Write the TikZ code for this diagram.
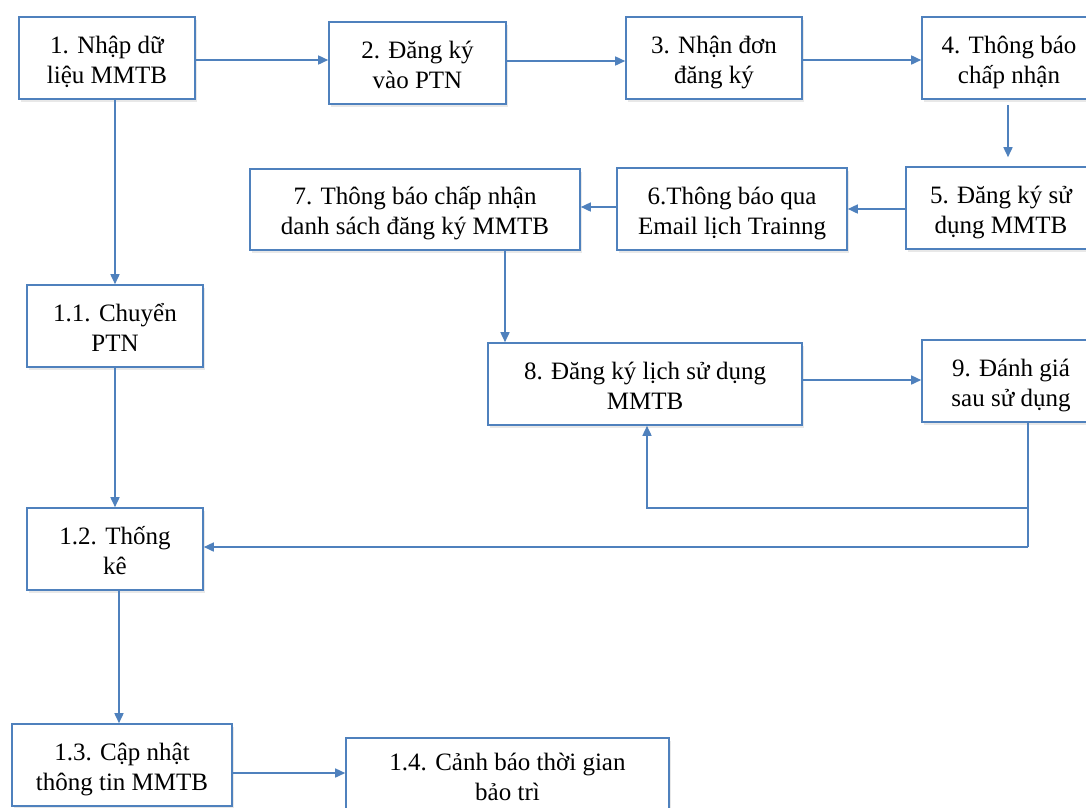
\documentclass[tikz,border=0pt]{standalone}
\usepackage{fontspec}
\setmainfont{Liberation Serif}
\usetikzlibrary{arrows.meta,shadows}
\definecolor{lineblue}{HTML}{4F81BD}
\newcommand\bx[3][10.5pt]{\raisebox{-#1}[0pt][0pt]{\begin{tabular}{@{}c@{}}#2\\#3\end{tabular}}}
\begin{document}
\begin{tikzpicture}[x=1pt,y=-1pt,
  box/.style={draw=lineblue, line width=1.6pt, fill=white, inner sep=0pt,
    font=\fontsize{25pt}{30pt}\selectfont,
    drop shadow={opacity=0.18, shadow xshift=2pt, shadow yshift=-2.5pt}},
  conn/.style={draw=lineblue, line width=1.6pt},
  arr/.style={conn, -{Triangle[length=10pt,width=9pt]}}]
\useasboundingbox (0,0) rectangle (1086,807);
\fill[white] (0,0) rectangle (1086,807);
\clip (0,0) rectangle (1086,807);

\node[box, minimum width=176pt, minimum height=82pt] (n1) at (107,58) {\bx{1. Nhập dữ}{liệu MMTB}};
\node[box, minimum width=177pt, minimum height=82pt] (n2) at (417.5,63) {\bx{2. Đăng ký}{vào PTN}};
\node[box, minimum width=176pt, minimum height=82pt] (n3) at (714,58) {\bx{3. Nhận đơn}{đăng ký}};
\node[box, minimum width=174pt, minimum height=82pt] (n4) at (1009,58) {\bx{4. Thông báo}{chấp nhận}};
\node[box, minimum width=190pt, minimum height=82pt] (n5) at (1001,208) {\bx{5. Đăng ký sử}{dụng MMTB}};
\node[box, minimum width=230pt, minimum height=82pt] (n6) at (732,209) {\bx{6.Thông báo qua}{Email lịch Trainng}};
\node[box, minimum width=330pt, minimum height=81pt] (n7) at (415,209.5) {\bx{7. Thông báo chấp nhận}{danh sách đăng ký MMTB}};
\node[box, minimum width=314pt, minimum height=82pt] (n8) at (645,384) {\bx{8. Đăng ký lịch sử dụng}{MMTB}};
\node[box, minimum width=178pt, minimum height=82pt] (n9) at (1011,381) {\bx{9. Đánh giá}{sau sử dụng}};
\node[box, minimum width=176pt, minimum height=82pt] (n11) at (115,326) {\bx{1.1. Chuyển}{PTN}};
\node[box, minimum width=176pt, minimum height=82pt] (n12) at (115,549) {\bx{1.2. Thống}{kê}};
\node[box, minimum width=220pt, minimum height=82pt] (n13) at (122,765) {\bx{1.3. Cập nhật}{thông tin MMTB}};
\node[box, minimum width=323pt, minimum height=82pt] (n14) at (507.5,779) {\bx[6.5pt]{1.4. Cảnh báo thời gian}{bảo trì}};

\coordinate (j1) at (1028,508);
\coordinate (j2) at (1028,547);

\draw[arr] (n1.east |- 0,60) -- (n2.west |- 0,60);
\draw[arr] (n2.east |- 0,61) -- (n3.west |- 0,61);
\draw[arr] (n3.east |- 0,60) -- (n4.west |- 0,60);
\draw[arr, shorten <=5pt, shorten >=9pt] (n4.south -| 1008,0) -- (n5.north -| 1008,0);
\draw[arr] (n5.west |- 0,209) -- (n6.east |- 0,209);
\draw[arr] (n6.west |- 0,207) -- (n7.east |- 0,207);
\draw[arr] (n7.south -| 505,0) -- (n8.north -| 505,0);
\draw[arr] (n8.east |- 0,380) -- (n9.west |- 0,380);
\draw[conn] (n9.south -| j1) -- (j2);
\draw[arr] (j2) -- (n12.east |- j2);
\draw[arr] (j1) -- (647,508) -- (n8.south -| 647,0);
\draw[arr] (n1.south -| 115,0) -- (n11.north -| 115,0);
\draw[arr] (n11.south -| 115,0) -- (n12.north -| 115,0);
\draw[arr] (n12.south -| 119,0) -- (n13.north -| 119,0);
\draw[arr] (n13.east |- 0,773) -- (n14.west |- 0,773);
\end{tikzpicture}
\end{document}
